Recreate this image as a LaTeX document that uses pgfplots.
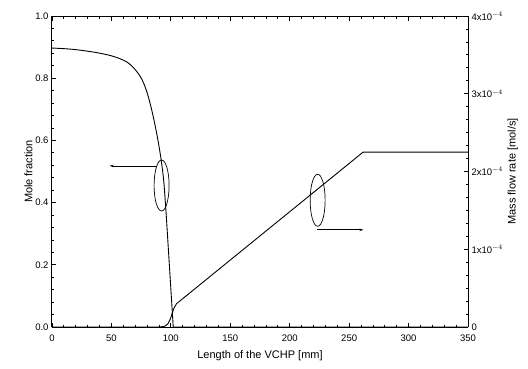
\documentclass[border=0pt]{standalone}
\usepackage{pgfplots}
\pgfplotsset{compat=1.18}
\usetikzlibrary{arrows.meta}
\usepackage{fontspec}
\setmainfont{Liberation Sans}
\begin{document}
\begin{tikzpicture}[x=1pt,y=1pt]
\pgfplotsset{
  every axis/.append style={
    scale only axis, width=416pt, height=311pt,
    xmin=0, xmax=350,
    axis line style={line width=1pt},
    tick style={black, line width=0.8pt},
    major tick length=4.5pt, minor tick length=2.5pt,
    tick align=inside,
    tick label style={font=\fontsize{9.5}{11}\selectfont},
    label style={font=\fontsize{11}{13}\selectfont},
    /pgf/number format/assume math mode=true,
  }
}
\begin{axis}[name=main,
  ymin=0, ymax=1,
  axis y line*=left,
  xtick={0,50,...,350},
  minor xtick={10,20,...,340},
  ytick={0,0.2,...,1.0},
  minor ytick={0.04,0.08,...,0.99},
  yticklabel style={/pgf/number format/fixed, /pgf/number format/fixed zerofill, /pgf/number format/precision=1},
  xticklabel style={/pgf/number format/fixed, yshift=-4pt},
  xlabel={Length of the VCHP [mm]},
  ylabel={Mole fraction},
  xlabel style={yshift=-2pt},
  ylabel style={yshift=-4pt},
  clip=false,
]
\addplot[black, line width=0.9pt, smooth, tension=0.5] coordinates {
 (0,0.897) (14,0.894) (26,0.889) (38,0.882) (49,0.873) (57,0.863) (63,0.852) (67.5,0.838)
 (71.2,0.822) (74.5,0.804) (77,0.785) (79,0.765) (81,0.741) (83.2,0.709) (85.2,0.676)
 (87.5,0.634) (89.4,0.595) (90.9,0.561) (92.2,0.528) (94,0.470) (95.9,0.373)
};
\addplot[black, line width=0.9pt] coordinates {
 (95.9,0.373) (102,0.0) (350,0.0)
};
% annotation: ellipse and arrow to left axis
\draw[black, line width=0.7pt] (axis cs:92.2,0.455) ellipse [x radius=7.5pt, y radius=25.5pt];
\draw[black, line width=0.7pt, -{Stealth[length=4pt,width=2.5pt]}] (axis cs:88.5,0.518) -- (axis cs:48.5,0.518);
\end{axis}
\begin{axis}[name=right,
  ymin=0, ymax=4e-4,
  axis y line*=right,
  axis x line=none,
  scaled y ticks=false,
  ytick={0,1e-4,2e-4,3e-4,4e-4},
  yticklabels={0, {1x10$^{-4}$}, {2x10$^{-4}$}, {3x10$^{-4}$}, {4x10$^{-4}$}},
  minor ytick={0.1667e-4,0.3333e-4,0.5e-4,0.6667e-4,0.8333e-4,1.1667e-4,1.3333e-4,1.5e-4,1.6667e-4,1.8333e-4,2.1667e-4,2.3333e-4,2.5e-4,2.6667e-4,2.8333e-4,3.1667e-4,3.3333e-4,3.5e-4,3.6667e-4,3.8333e-4},
  ylabel={Mass flow rate [mol/s]},
  ylabel style={yshift=2pt},
  clip=false,
]
\addplot[black, line width=0.9pt] coordinates {
 (0,0) (91,0) (95,0.01e-4) (97.5,0.04e-4) (99.5,0.10e-4) (101,0.17e-4) (102.5,0.24e-4) (104.8,0.30e-4)
 (261.8,2.25e-4) (350,2.25e-4)
};
\draw[black, line width=0.7pt] (axis cs:223.5,1.63e-4) ellipse [x radius=7.5pt, y radius=26pt];
\draw[black, line width=0.7pt, -{Stealth[length=4pt,width=2.5pt]}] (axis cs:223,1.25e-4) -- (axis cs:262,1.25e-4);
\end{axis}
\pgfresetboundingbox
\path (main.south west) ++(-52pt,-41pt) coordinate (bl);
\path (main.north east) ++(60pt,16pt) coordinate (tr);
\path (bl) rectangle (tr);
\end{tikzpicture}
\end{document}
